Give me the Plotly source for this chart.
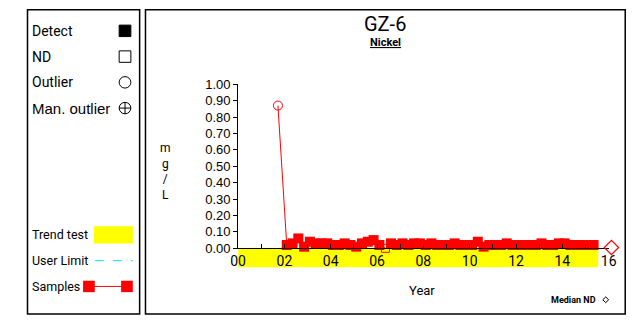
import plotly.graph_objects as go

W, H = 642, 324

# ---------------- data ----------------
outlier_year = [1.72]
outlier_val = [0.87]

sample_years = [2.10, 2.35, 2.60, 2.85, 3.10, 3.35, 3.60, 3.85, 4.10, 4.35, 4.60, 4.85,
                5.10, 5.35, 5.60, 5.85, 6.10, 6.36, 6.60, 6.85, 7.10, 7.35, 7.60, 7.85,
                8.10, 8.35, 8.60, 8.85, 9.10, 9.35, 9.60, 9.85, 10.10, 10.35, 10.60, 10.85,
                11.10, 11.35, 11.60, 11.85, 12.10, 12.35, 12.60, 12.85, 13.10, 13.35, 13.60,
                13.85, 14.10, 14.35, 14.60, 14.85, 15.10, 15.35]
sample_vals = [0.02, 0.03, 0.06, 0.01, 0.04, 0.03, 0.03, 0.03, 0.02, 0.02, 0.03, 0.02,
               0.01, 0.03, 0.04, 0.05, 0.02, 0.00, 0.03, 0.02, 0.03, 0.02, 0.03, 0.03,
               0.02, 0.03, 0.02, 0.02, 0.02, 0.03, 0.02, 0.02, 0.02, 0.04, 0.01, 0.02,
               0.02, 0.02, 0.03, 0.02, 0.02, 0.02, 0.02, 0.02, 0.03, 0.02, 0.02,
               0.03, 0.03, 0.02, 0.02, 0.02, 0.02, 0.02]
nd_flags = [i == 17 for i in range(len(sample_years))]

median_nd_year = [16.12]
median_nd_val = [0.005]

trend_start, trend_end = 0.0, 15.55

x_tickvals = list(range(0, 17))
x_ticktext = ["%02d" % v if v % 2 == 0 else "" for v in x_tickvals]
y_tickvals = [i / 10 for i in range(11)]
y_ticktext = ["%.2f" % v for v in y_tickvals]

XMIN, XMAX = 0, 16
XMAX2 = 16.5
YMIN, YMAX = 0, 1.0

# ---------------- layout geometry (pixels) ----------------
PX_L, PX_R = 236, 616
PY_T, PY_B = 81, 253
PX_R2 = PX_L + (XMAX2 - XMIN) / (XMAX - XMIN) * (PX_R - PX_L)

def px(x):
    return x / W

def py(y):
    return 1 - y / H

NARROW = "Roboto, Liberation Sans, sans-serif"
ARIAL = "Liberation Sans, Arial, sans-serif"

fig = go.Figure()

line_x = outlier_year + sample_years
line_y = outlier_val + sample_vals
fig.add_trace(go.Scatter(x=line_x, y=line_y, mode="lines",
                         line=dict(color="#ff0000", width=1), hoverinfo="skip",
                         showlegend=False, cliponaxis=False))
fig.add_trace(go.Scatter(
    x=[x for x, f in zip(sample_years, nd_flags) if not f],
    y=[v for v, f in zip(sample_vals, nd_flags) if not f],
    mode="markers", marker=dict(symbol="square", size=10, color="#ff0000",
                                line=dict(width=0)),
    showlegend=False, cliponaxis=False))
fig.add_trace(go.Scatter(
    x=[x for x, f in zip(sample_years, nd_flags) if f],
    y=[v for v, f in zip(sample_vals, nd_flags) if f],
    mode="markers", marker=dict(symbol="square-open", size=8, color="#ff0000",
                                line=dict(width=1)),
    showlegend=False, cliponaxis=False))
fig.add_trace(go.Scatter(x=outlier_year, y=outlier_val, mode="markers",
                         marker=dict(symbol="circle-open", size=9, color="#ff0000",
                                     line=dict(width=1)),
                         showlegend=False, cliponaxis=False))
fig.add_trace(go.Scatter(x=median_nd_year, y=median_nd_val, mode="markers",
                         xaxis="x2", yaxis="y2",
                         marker=dict(symbol="diamond-open", size=11, color="#ff0000",
                                     line=dict(width=1.2)),
                         showlegend=False, cliponaxis=False))

shapes = []
shapes.append(dict(type="rect", xref="paper", yref="paper", x0=px(20), x1=px(135),
                   y0=py(322), y1=py(3), line=dict(color="black", width=1.5)))
shapes.append(dict(type="rect", xref="paper", yref="paper", x0=px(141), x1=px(633),
                   y0=py(322), y1=py(3), line=dict(color="black", width=1.5)))

def xdata_to_paper(v):
    return (PX_L + (v - XMIN) / (XMAX - XMIN) * (PX_R - PX_L)) / W

shapes.append(dict(type="rect", xref="paper", yref="paper",
                   x0=xdata_to_paper(trend_start), x1=xdata_to_paper(trend_end),
                   y0=py(273), y1=py(PY_B), fillcolor="#ffff00",
                   line=dict(width=0), layer="below"))

shapes.append(dict(type="rect", xref="paper", yref="paper", x0=px(114), x1=px(126),
                   y0=py(31), y1=py(19), fillcolor="black", line=dict(color="black", width=1)))
shapes.append(dict(type="rect", xref="paper", yref="paper", x0=px(114), x1=px(126),
                   y0=py(58), y1=py(46), line=dict(color="black", width=1)))
shapes.append(dict(type="circle", xref="paper", yref="paper", x0=px(114), x1=px(126),
                   y0=py(85), y1=py(73), line=dict(color="black", width=1)))
shapes.append(dict(type="circle", xref="paper", yref="paper", x0=px(114), x1=px(126),
                   y0=py(112), y1=py(100), line=dict(color="black", width=1)))
shapes.append(dict(type="line", xref="paper", yref="paper", x0=px(114), x1=px(126),
                   y0=py(106), y1=py(106), line=dict(color="black", width=1)))
shapes.append(dict(type="line", xref="paper", yref="paper", x0=px(120), x1=px(120),
                   y0=py(112), y1=py(100), line=dict(color="black", width=1)))
shapes.append(dict(type="rect", xref="paper", yref="paper", x0=px(88), x1=px(128),
                   y0=py(248), y1=py(230), fillcolor="#ffff00", line=dict(width=0)))
shapes.append(dict(type="line", xref="paper", yref="paper", x0=px(89), x1=px(128),
                   y0=py(266), y1=py(266), line=dict(color="#00e5ee", width=1, dash="dash")))
shapes.append(dict(type="line", xref="paper", yref="paper", x0=px(82), x1=px(122),
                   y0=py(293), y1=py(293), line=dict(color="#ff0000", width=1)))
shapes.append(dict(type="rect", xref="paper", yref="paper", x0=px(77), x1=px(89),
                   y0=py(299), y1=py(287), fillcolor="#ff0000", line=dict(width=0)))
shapes.append(dict(type="rect", xref="paper", yref="paper", x0=px(116), x1=px(128),
                   y0=py(299), y1=py(287), fillcolor="#ff0000", line=dict(width=0)))
shapes.append(dict(type="path", xref="paper", yref="paper",
                   path="M %f %f L %f %f L %f %f L %f %f Z" % (
                       px(613), py(304), px(616), py(307), px(613), py(310), px(610), py(307)),
                   line=dict(color="black", width=1)))

annotations = []

def txt(x, y, text, size, family=NARROW, xanchor="left", color="black"):
    annotations.append(dict(x=px(x), y=py(y), xref="paper", yref="paper", text=text,
                            showarrow=False, xanchor=xanchor, yanchor="middle",
                            borderpad=0,
                            font=dict(size=size, family=family, color=color)))

txt(24, 25, "Detect", 14)
txt(24, 52, "ND", 14)
txt(24, 79, "Outlier", 14)
txt(24, 106, "Man. outlier", 15, family=ARIAL)
txt(24, 239, "Trend test", 12.5)
txt(24, 266, "User Limit", 12.5)
txt(24, 293, "Samples", 12.5)

txt(387, 18, "GZ-6", 20, xanchor="center")
txt(387, 37.5, "<b><u>Nickel</u></b>", 11, xanchor="center")
txt(425, 297, "Year", 13, xanchor="center")
txt(580, 307, "<b>Median ND</b>", 9, xanchor="center")
txt(162, 172, "m<br>g<br>/<br>L", 12, xanchor="center")

fig.update_layout(
    width=W, height=H,
    margin=dict(l=0, r=0, t=0, b=0),
    paper_bgcolor="white", plot_bgcolor="rgba(0,0,0,0)",
    shapes=shapes, annotations=annotations,
    showlegend=False,
    xaxis=dict(domain=[px(PX_L), px(PX_R)], range=[XMIN, XMAX], anchor="y",
               tickmode="array", tickvals=x_tickvals, ticktext=x_ticktext,
               ticks="inside", ticklen=4, tickcolor="black",
               showline=True, linecolor="black", linewidth=1,
               showgrid=False, zeroline=False,
               tickfont=dict(family=NARROW, size=14, color="black")),
    yaxis=dict(domain=[py(PY_B), py(PY_T)], range=[YMIN, YMAX], anchor="x",
               tickmode="array", tickvals=y_tickvals, ticktext=y_ticktext,
               ticks="outside", ticklen=4, tickcolor="black",
               showline=True, linecolor="black", linewidth=1,
               showgrid=False, zeroline=False,
               tickfont=dict(family=ARIAL, size=13, color="black")),
    xaxis2=dict(domain=[px(PX_L), px(PX_R2)], range=[XMIN, XMAX2], anchor="y2",
                visible=False, showgrid=False, zeroline=False),
    yaxis2=dict(domain=[py(PY_B), py(PY_T)], range=[YMIN, YMAX], anchor="x2",
                visible=False, showgrid=False, zeroline=False),
)

post = (
    "var s=document.createElement('style');"
    "s.textContent='html,body{margin:0!important;padding:0!important;overflow:hidden!important;"
    "width:642px;height:324px;}';"
    "document.head.appendChild(s);"
)

fig.write_html("out.html", config={"displayModeBar": False}, post_script=post)
